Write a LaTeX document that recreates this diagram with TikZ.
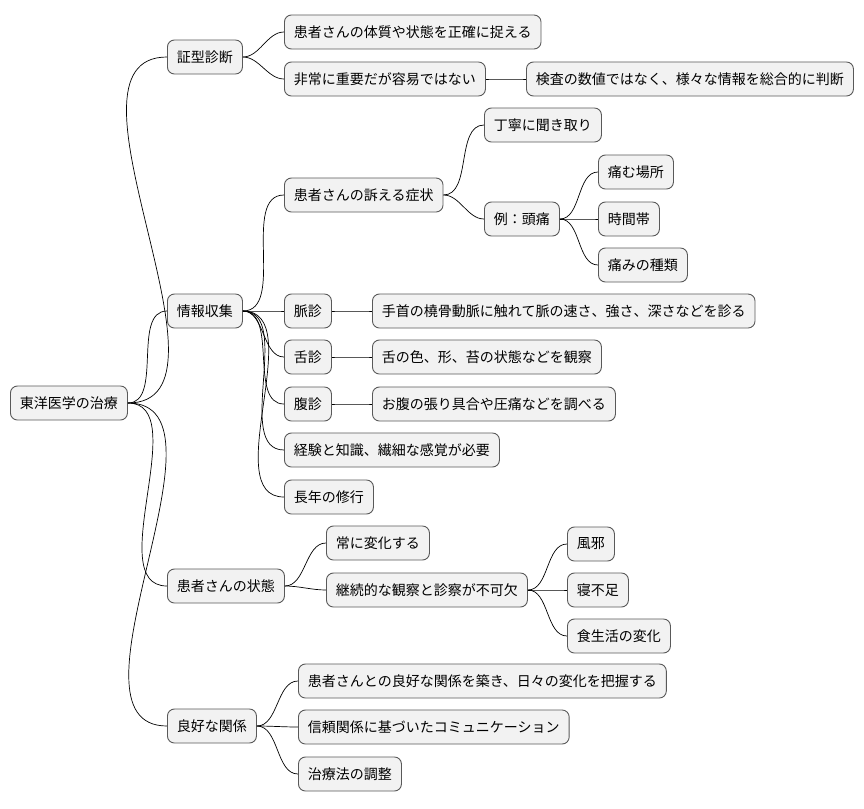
\documentclass[tikz,border=0pt]{standalone}
\usepackage{fontspec}
\setmainfont{Noto Sans CJK JP}
\begin{document}
\begin{tikzpicture}[x=1pt,y=-1pt,
  nb/.style={draw=black!65,fill=black!5,rounded corners=7pt,line width=0.9pt,minimum height=34pt,inner xsep=9.5pt,font=\fontsize{14}{16}\selectfont,anchor=west},
  ed/.style={draw=black,line width=0.7pt}]
\useasboundingbox (0,0) rectangle (864,808);
\node[nb] (r) at (10,403) {東洋医学の治療};
\node[nb] (a) at (167,57) {証型診断};
\node[nb] (a1) at (284,32) {患者さんの体質や状態を正確に捉える};
\node[nb] (a2) at (284,79) {非常に重要だが容易ではない};
\node[nb] (a21) at (526,79) {検査の数値ではなく、様々な情報を総合的に判断};
\node[nb] (b) at (167,311) {情報収集};
\node[nb] (b1) at (284,195) {患者さんの訴える症状};
\node[nb] (b11) at (484,125) {丁寧に聞き取り};
\node[nb] (b12) at (484,219) {例：頭痛};
\node[nb] (b121) at (598,172) {痛む場所};
\node[nb] (b122) at (598,219) {時間帯};
\node[nb] (b123) at (598,265) {痛みの種類};
\node[nb] (b2) at (284,311) {脈診};
\node[nb] (b21) at (372,311) {手首の橈骨動脈に触れて脈の速さ、強さ、深さなどを診る};
\node[nb] (b3) at (284,357) {舌診};
\node[nb] (b31) at (372,357) {舌の色、形、苔の状態などを観察};
\node[nb] (b4) at (284,404) {腹診};
\node[nb] (b41) at (372,404) {お腹の張り具合や圧痛などを調べる};
\node[nb] (b5) at (284,450) {経験と知識、繊細な感覚が必要};
\node[nb] (b6) at (284,497) {長年の修行};
\node[nb] (c) at (167,586) {患者さんの状態};
\node[nb] (c1) at (326,543) {常に変化する};
\node[nb] (c2) at (326,590) {継続的な観察と診察が不可欠};
\node[nb] (c21) at (567,544) {風邪};
\node[nb] (c22) at (567,590) {寝不足};
\node[nb] (c23) at (567,636) {食生活の変化};
\node[nb] (d) at (167,726) {良好な関係};
\node[nb] (d1) at (298,681) {患者さんとの良好な関係を築き、日々の変化を把握する};
\node[nb] (d2) at (298,727) {信頼関係に基づいたコミュニケーション};
\node[nb] (d3) at (298,774) {治療法の調整};
\foreach \p/\c in {r/a,r/b,r/c,r/d,a/a1,a/a2,a2/a21,b/b1,b/b2,b/b3,b/b4,b/b5,b/b6,b1/b11,b1/b12,b12/b121,b12/b122,b12/b123,b2/b21,b3/b31,b4/b41,c/c1,c/c2,c2/c21,c2/c22,c2/c23,d/d1,d/d2,d/d3}
  \draw[ed] (\p.east) to[out=0,in=180,looseness=0.9] (\c.west);
\end{tikzpicture}
\end{document}
